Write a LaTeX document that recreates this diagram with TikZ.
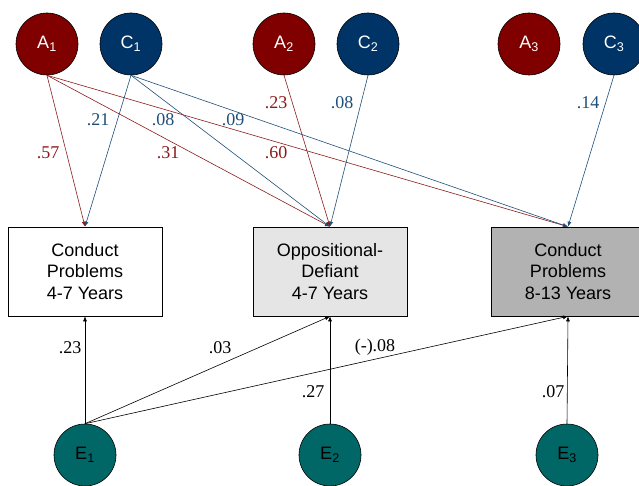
\documentclass[tikz,border=0pt]{standalone}
\usepackage{fontspec}
\setmainfont{Liberation Serif}
\setsansfont{Liberation Sans}
\usetikzlibrary{positioning, arrows.meta}
\definecolor{addred}{HTML}{800000}
\definecolor{sharedblue}{HTML}{003366}
\definecolor{uniqteal}{HTML}{006666}
\definecolor{pathred}{HTML}{8B1A1A}
\definecolor{pathblue}{HTML}{1F4E79}
\begin{document}
\begin{tikzpicture}[
         x=1pt, y=-1pt,
         latent/.style={circle, draw=black, line width=0.6pt, minimum size=62pt, inner sep=0pt, font=\fontsize{18}{20}\sffamily},
         additive/.style={latent, fill=addred, text=white},
         shared/.style={latent, fill=sharedblue, text=white},
         unique/.style={latent, fill=uniqteal, text=black},
         measure/.style={rectangle, draw=black, line width=0.6pt, minimum width=154pt, minimum height=89pt, align=center, font=\fontsize{18}{21.7}\sffamily},
         path/.style={line width=0.6pt, -{Latex[length=5pt,width=4pt]}},
         estimate/.style={font=\fontsize{18}{20}\selectfont, inner sep=0pt}
      ]
         \useasboundingbox (0,0) rectangle (639,486);

         % Nodes for latent factors
         \node[additive] (a1) at (47,44) {A\textsubscript{1}};
         \node[shared] (c1) at (131,44) {C\textsubscript{1}};
         \node[additive] (a2) at (284,44) {A\textsubscript{2}};
         \node[shared] (c2) at (368,44) {C\textsubscript{2}};
         \node[additive] (a3) at (529,44) {A\textsubscript{3}};
         \node[shared] (c3) at (614,44) {C\textsubscript{3}};
         \node[unique] (e1) at (85,455) {E\textsubscript{1}};
         \node[unique] (e2) at (330,455) {E\textsubscript{2}};
         \node[unique] (e3) at (567,455) {E\textsubscript{3}};

         % Nodes for measured outcomes
         \node[measure] (cp1) at (85,271.5) {Conduct\\Problems\\4-7 Years};
         \node[measure, fill=black!10] (odd) at (330,271.5) {Oppositional-\\Defiant\\4-7 Years};
         \node[measure, fill=black!30] (cp2) at (568,271.5) {Conduct\\Problems\\8-13 Years};

         % Paths from A and C
         \draw[path, pathred] (a1.south) -- (cp1.north);
         \draw[path, pathblue] (c1.south) -- (cp1.north);
         \draw[path, pathred] (a1.south) -- (odd.north);
         \draw[path, pathblue] (c1.south) -- (odd.north);
         \draw[path, pathred] (a1.south) -- (cp2.north);
         \draw[path, pathblue] (c1.south) -- (cp2.north);
         \draw[path, pathred] (a2.south) -- (odd.north);
         \draw[path, pathblue] (c2.south) -- (odd.north);
         \draw[path, pathblue] (c3.south) -- (cp2.north);

         % Paths from E
         \draw[path] (e1.north) -- (cp1.south);
         \draw[path] (e1.north) -- (odd.south);
         \draw[path] (e1.north) -- (cp2.south);
         \draw[path] (e2.north) -- (odd.south);
         \draw[path] (e3.north) -- (cp2.south);

         % Estimates
         \node[estimate, pathred] (wa1cp1) at (48,153) {.57};
         \node[estimate, pathblue] (wc1cp1) at (98,120) {.21};
         \node[estimate, pathblue] (wc1odd) at (163,120) {.08};
         \node[estimate, pathblue] (wc1cp2) at (233,120) {.09};
         \node[estimate, pathred] (wa1odd) at (168,153) {.31};
         \node[estimate, pathred] (wa1cp2) at (276,153) {.60};
         \node[estimate, pathred] (wa2odd) at (276,103) {.23};
         \node[estimate, pathblue] (wc2odd) at (342,103) {.08};
         \node[estimate, pathblue] (wc3cp2) at (588,103) {.14};
         \node[estimate] (we1cp1) at (70,348) {.23};
         \node[estimate] (we1odd) at (220,348) {.03};
         \node[estimate] (we1cp2) at (375,347) {(-).08};
         \node[estimate] (we2odd) at (313,392) {.27};
         \node[estimate] (we3cp2) at (553,392) {.07};
      \end{tikzpicture}
\end{document}
